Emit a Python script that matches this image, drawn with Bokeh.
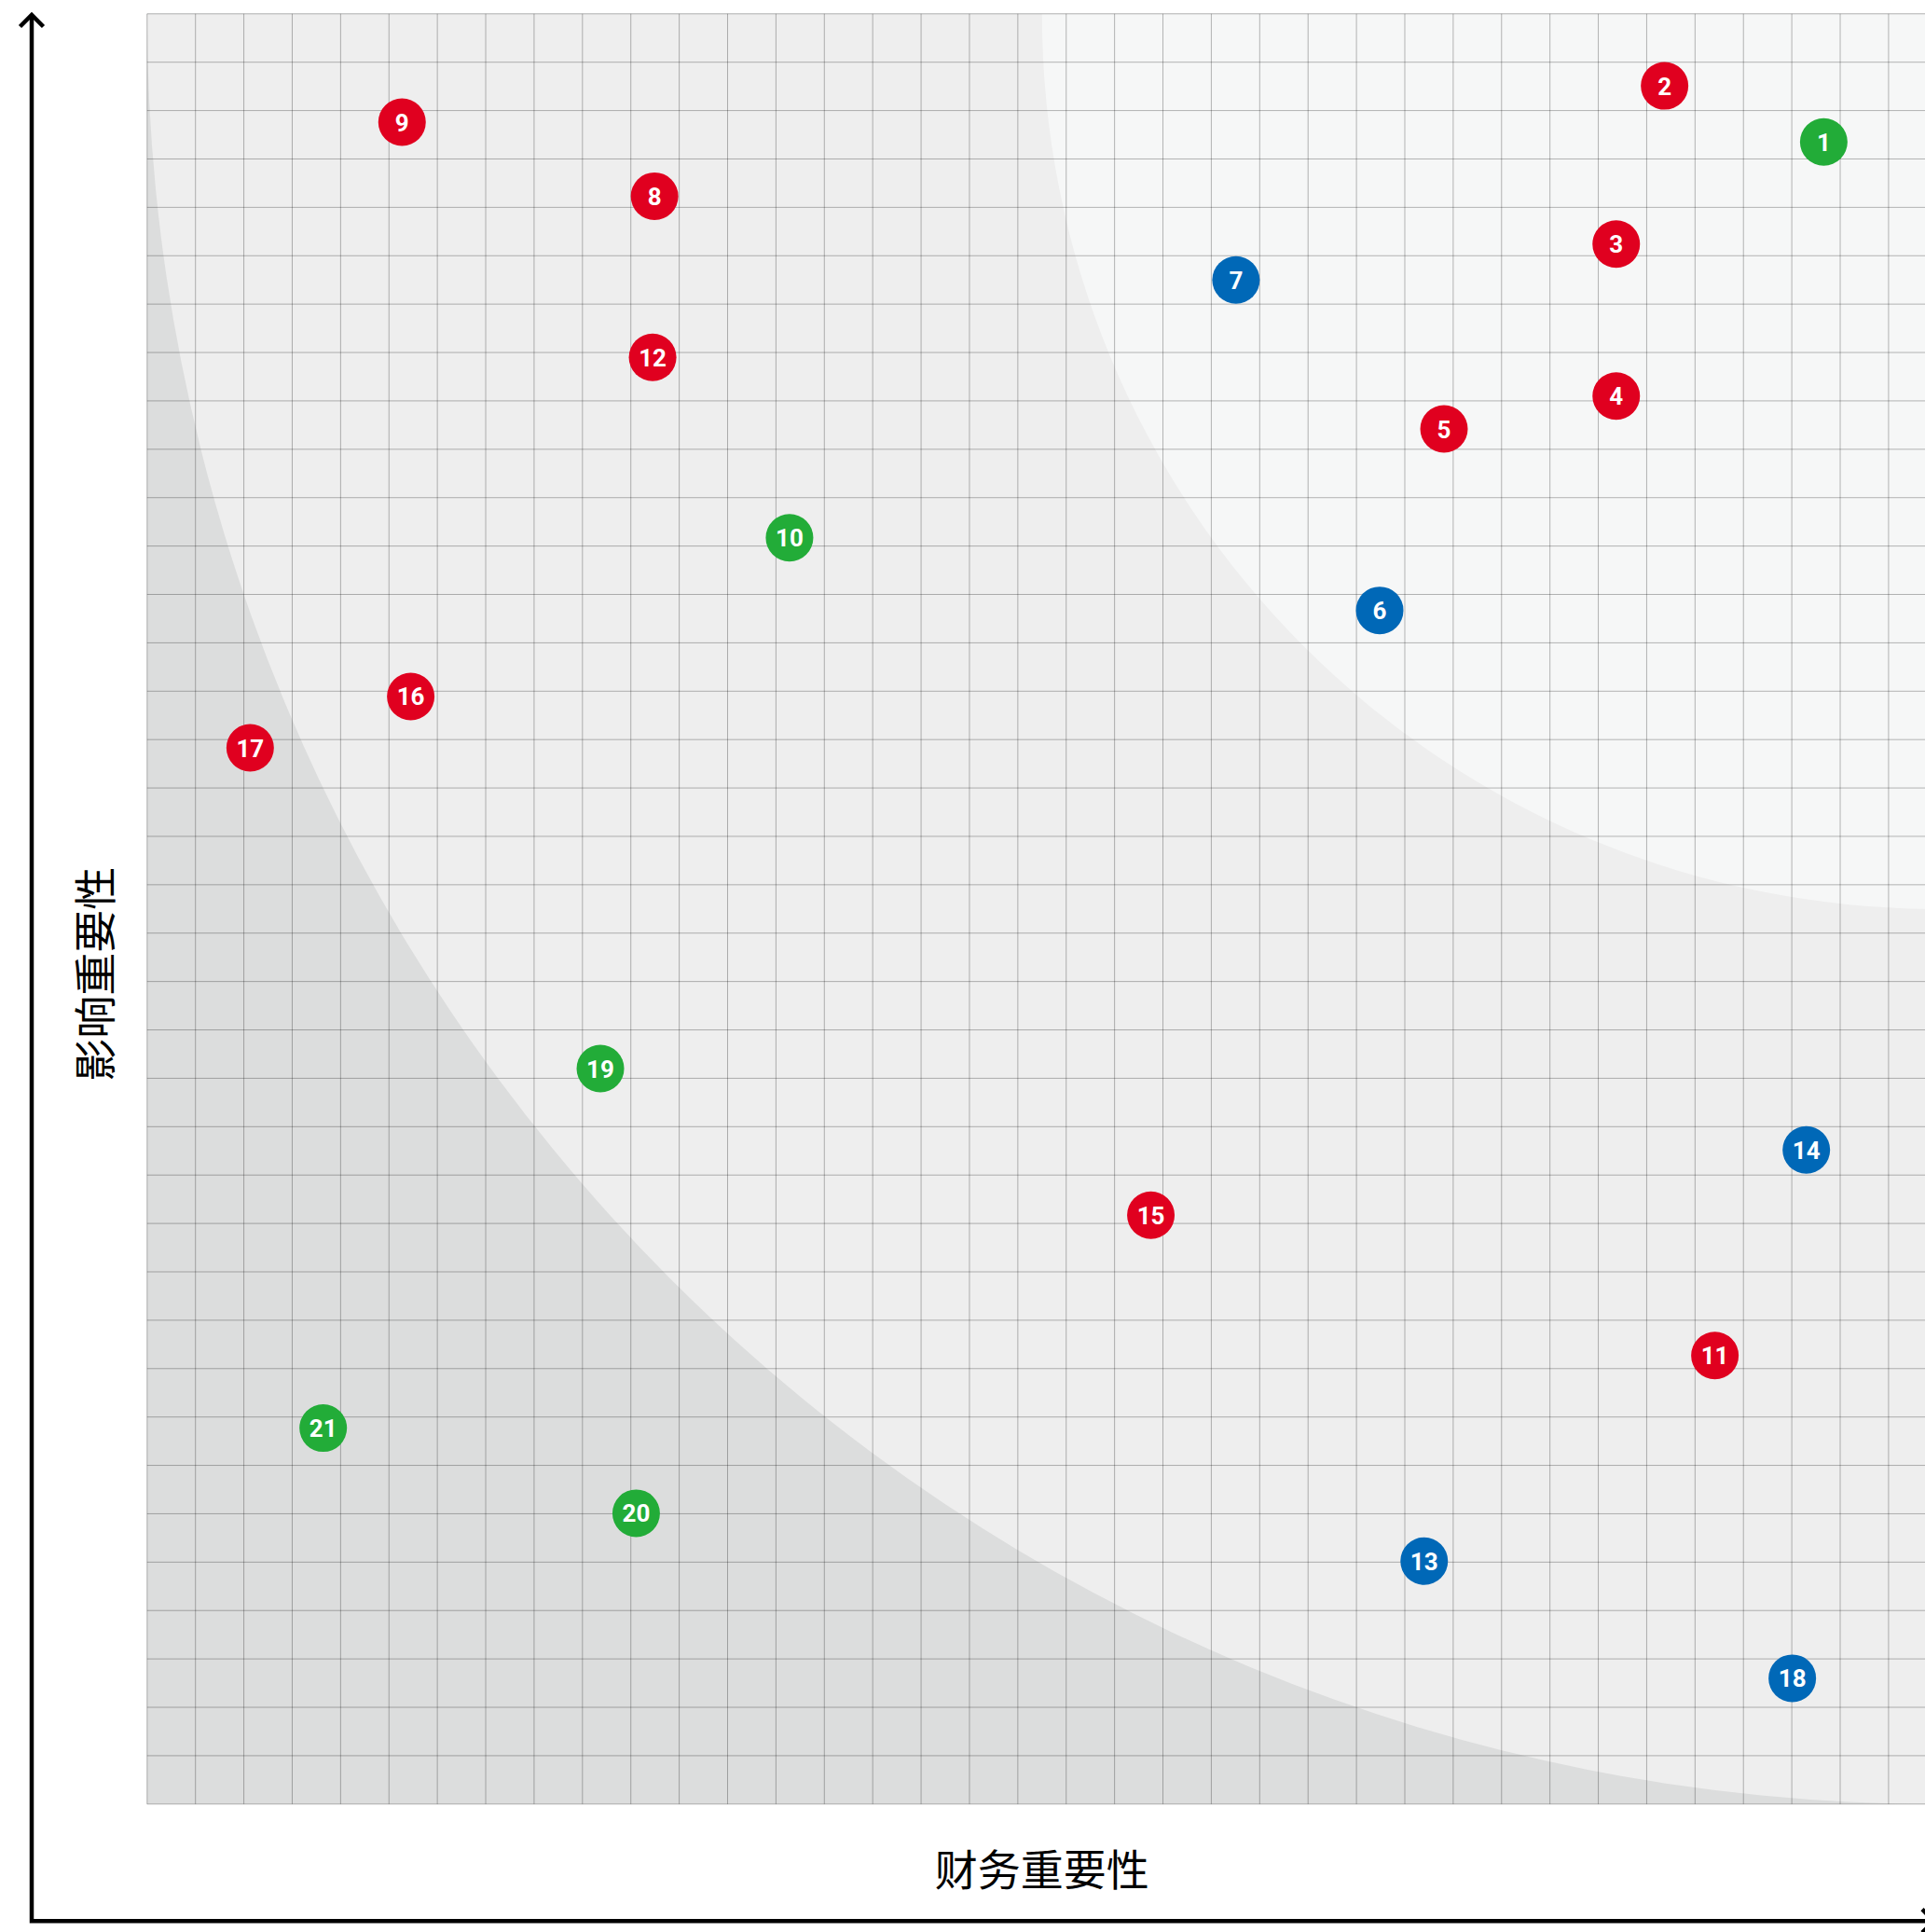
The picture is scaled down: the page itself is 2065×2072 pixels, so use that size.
import math
from bokeh.plotting import figure
from bokeh.models import Range1d
from bokeh.core.properties import value
from bokeh.embed import file_html
from bokeh.resources import INLINE

# ---------------- data (grid units: the square matrix is 37 x 37 cells) ----------------
topic_ids = ["1", "2", "3", "4", "5", "6", "7", "8", "9", "10", "11",
             "12", "13", "14", "15", "16", "17", "18", "19", "20", "21"]
financial_materiality = [34.66, 31.37, 30.37, 30.37, 26.81, 25.48, 22.51, 10.49, 5.27, 13.28, 32.41,
                         10.45, 26.40, 34.30, 20.75, 5.45, 2.13, 34.01, 9.37, 10.11, 3.64]
impact_materiality = [34.35, 35.51, 32.24, 29.10, 28.42, 24.67, 31.50, 33.23, 34.76, 26.17, 9.27,
                      29.90, 5.02, 13.52, 12.17, 22.89, 21.83, 2.60, 15.20, 6.01, 7.77]
topic_group = ["G", "S", "S", "S", "S", "B", "B", "S", "S", "G", "S",
               "S", "B", "B", "S", "S", "S", "B", "G", "G", "G"]
group_colors = {"S": "#e0001f", "B": "#0068b7", "G": "#22ac38"}

grid_ticks = list(range(0, 38))
axis_max = 37
x_title = "财务重要性"
y_title = "影响重要性"

# ---------------- figure ----------------
C = 1920 / 37.0          # pixels per grid unit
W, H = 2065, 2072
x_start = -157.3 / C
y_start = -137.7 / C

p = figure(width=W, height=H,
           x_range=Range1d(x_start, x_start + W / C),
           y_range=Range1d(y_start, y_start + H / C),
           output_backend="svg", toolbar_location=None,
           x_axis_location=None, y_axis_location=None,
           min_border=0, outline_line_color=None,
           background_fill_color="white", border_fill_color="white")
p.grid.visible = False

# background zones
p.quad(left=0, right=axis_max, bottom=0, top=axis_max,
       fill_color="#dcdddd", line_color=None)
p.wedge(x=axis_max, y=axis_max, radius=axis_max,
        start_angle=math.pi, end_angle=1.5 * math.pi,
        fill_color="#eeeeee", line_color=None)
p.wedge(x=axis_max, y=axis_max, radius=axis_max / 2.0,
        start_angle=math.pi, end_angle=1.5 * math.pi,
        fill_color="#f6f7f7", line_color=None)

# grid
n = len(grid_ticks)
p.segment(x0=grid_ticks, y0=[0] * n, x1=grid_ticks, y1=[axis_max] * n,
          line_color="#000000", line_alpha=0.28, line_width=1)
p.segment(x0=[0] * n, y0=grid_ticks, x1=[axis_max] * n, y1=grid_ticks,
          line_color="#000000", line_alpha=0.28, line_width=1)

# topics
colors = [group_colors[g] for g in topic_group]
p.scatter(x=financial_materiality, y=impact_materiality, size=51,
          fill_color=colors, line_color=None)
p.text(x=financial_materiality, y=impact_materiality, text=topic_ids,
       text_color="white", text_font=value("Roboto"), text_font_size="26px",
       text_font_style="bold", text_align="center", text_baseline="middle")

# axis arrows
ax_x = (33.5 - 157.3) / C
ax_y = (1934.3 - 2059.7) / C
tip_y = (1934.3 - 15.5) / C
tip_x = (2074.0 - 157.3) / C
arm = 12.5 / C
p.line([tip_x, ax_x, ax_x], [ax_y, ax_y, tip_y], line_width=4.5,
       line_color="black", line_join="miter")
p.line([ax_x - arm, ax_x, ax_x + arm], [tip_y - arm, tip_y, tip_y - arm],
       line_width=4.5, line_color="black", line_join="miter")
p.line([tip_x - arm, tip_x, tip_x - arm], [ax_y + arm, ax_y, ax_y - arm],
       line_width=4.5, line_color="black", line_join="miter")

# axis titles
p.text(x=[axis_max / 2.0], y=[-1.30], text=[x_title], text_color="black",
       text_font=value("Noto Sans CJK SC"), text_font_size="46px",
       text_align="center", text_baseline="middle")
p.text(x=[-1.137], y=[17.153], text=[y_title], angle=math.pi / 2, text_color="black",
       text_font=value("Noto Sans CJK SC"), text_font_size="46px",
       text_align="center", text_baseline="middle")

open("out.html", "w").write(file_html(p, INLINE))
